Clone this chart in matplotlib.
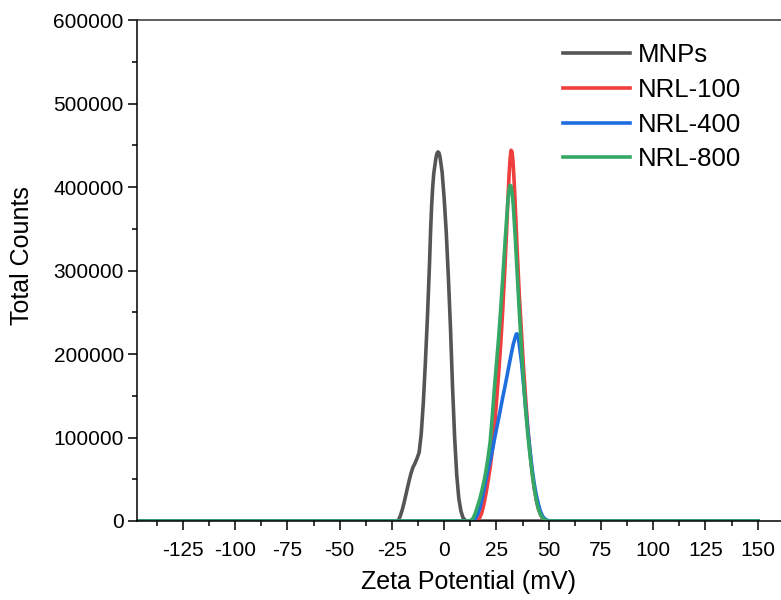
import matplotlib
matplotlib.use("Agg")
import matplotlib.pyplot as plt
from matplotlib.ticker import MultipleLocator, FormatStrFormatter

plt.rcParams['font.family'] = ['Liberation Sans', 'DejaVu Sans']
plt.rcParams['axes.unicode_minus'] = False

# zeta potential (mV) and total counts
mnps_x = [-150, -23, -22, -21, -20, -19, -18, -17, -16, -15, -14, -13, -12, -11,
          -10, -9, -8, -7, -6.5, -6, -5.5, -5, -4, -3.5, -3, -2.5, -2, -1, 0,
          1, 2, 3, 4, 5, 6, 7, 8, 9, 10, 11, 150]
mnps_y = [0, 0, 500, 6000, 14000, 24000, 35000, 46000, 56000, 64000, 69000,
          75000, 82000, 104000, 141000, 190000, 245000, 310000, 348000, 378000,
          400000, 416000, 434000, 440000, 442000, 441000, 436000, 418000,
          386000, 345000, 292000, 232000, 160000, 100000, 55000, 27000, 12000,
          4000, 1000, 0, 0]

nrl100_x = [-150, 15, 16, 17, 18, 19, 20, 21, 22, 23, 24, 25, 26, 27, 28, 29,
            30, 30.5, 31, 31.5, 32, 32.5, 33, 33.5, 34, 35, 36, 37, 38, 39, 40,
            41, 42, 43, 44, 45, 46, 47, 48, 49, 50, 150]
nrl100_y = [0, 0, 1000, 4000, 10000, 20000, 33000, 48000, 64000, 84000,
            110000, 142000, 175000, 210000, 252000, 300000, 355000, 385000,
            412000, 433000, 444000, 442000, 428000, 405000, 378000, 320000,
            268000, 225000, 182000, 146000, 112000, 84000, 60000, 40000, 26000,
            15000, 8000, 3500, 1200, 300, 0, 0]

nrl400_x = [-150, 13, 14, 15, 16, 17, 18, 19, 20, 21, 22, 23, 24, 25, 26, 27,
            28, 29, 30, 31, 32, 33, 34, 34.5, 35, 35.5, 36, 37, 38, 39, 40, 41,
            42, 43, 44, 45, 46, 47, 48, 49, 50, 51, 150]
nrl400_y = [0, 0, 1000, 3000, 8000, 15000, 25000, 37000, 50000, 62000, 72000,
            84000, 97000, 110000, 122000, 135000, 148000, 160000, 173000,
            186000, 199000, 211000, 220000, 224000, 224000, 219000, 210000,
            190000, 163000, 135000, 110000, 86000, 64000, 46000, 32000, 21000,
            12000, 6000, 3000, 1200, 400, 0, 0]

nrl800_x = [-150, 12, 13, 14, 15, 16, 17, 18, 19, 20, 21, 22, 23, 24, 25, 26,
            27, 28, 29, 30, 30.5, 31, 31.5, 32, 32.5, 33, 34, 35, 36, 37, 38,
            39, 40, 41, 42, 43, 44, 45, 46, 47, 48, 49, 50, 150]
nrl800_y = [0, 0, 1000, 4000, 10000, 18000, 26000, 36000, 47000, 60000, 76000,
            95000, 125000, 158000, 188000, 218000, 252000, 290000, 330000,
            366000, 384000, 396000, 402000, 401000, 393000, 380000, 340000,
            293000, 248000, 205000, 166000, 132000, 104000, 80000, 59000,
            41000, 26000, 15000, 8000, 4000, 1500, 500, 0, 0]

labels = ['MNPs', 'NRL-100', 'NRL-400', 'NRL-800']
colors = ['#555555', '#ef3e3e', '#1f6ee0', '#35a865']

fig = plt.figure(figsize=(7.81, 6.0), dpi=100)
# the right spine sits just past the figure edge, as in the cropped original
ax = fig.add_axes([137 / 781, 79 / 600, 652 / 781, 501 / 600])

series = [(mnps_x, mnps_y), (nrl100_x, nrl100_y), (nrl400_x, nrl400_y),
          (nrl800_x, nrl800_y)]
for (xs, ys), lab, col in zip(series, labels, colors):
    ax.plot(xs, ys, color=col, lw=2.6, label=lab, solid_joinstyle='round')

ax.set_xlim(-147, 165)
ax.set_ylim(0, 600000)

ax.xaxis.set_minor_locator(MultipleLocator(12.5))
ax.yaxis.set_major_locator(MultipleLocator(100000))
ax.yaxis.set_minor_locator(MultipleLocator(50000))
ax.yaxis.set_major_formatter(FormatStrFormatter('%d'))
ax.set_xticks(range(-125, 151, 25))

ax.tick_params(which='major', direction='out', length=6.5, width=1.1,
               labelsize=15, pad=3, top=False, right=False)
ax.tick_params(which='minor', direction='out', length=3.5, width=1.1,
               top=False, right=False)
ax.tick_params(axis='x', which='major', pad=8)

for side in ['left', 'bottom', 'top', 'right']:
    ax.spines[side].set_linewidth(1.1)
ax.spines['top'].set_color('#333333')

ax.set_xlabel('Zeta Potential (mV)', fontsize=18)
ax.set_ylabel('Total Counts', fontsize=18)
ax.xaxis.set_label_coords(0.509, -0.098)
ax.yaxis.set_label_coords(-0.158, 0.53)

ax.legend(loc='upper left', bbox_to_anchor=(563 / 781, 557 / 600),
          bbox_transform=fig.transFigure, frameon=False, fontsize=18.5,
          handlelength=2.6, handletextpad=0.3, labelspacing=0.42,
          borderpad=0, borderaxespad=0)

fig.savefig('out.png', dpi=100)
